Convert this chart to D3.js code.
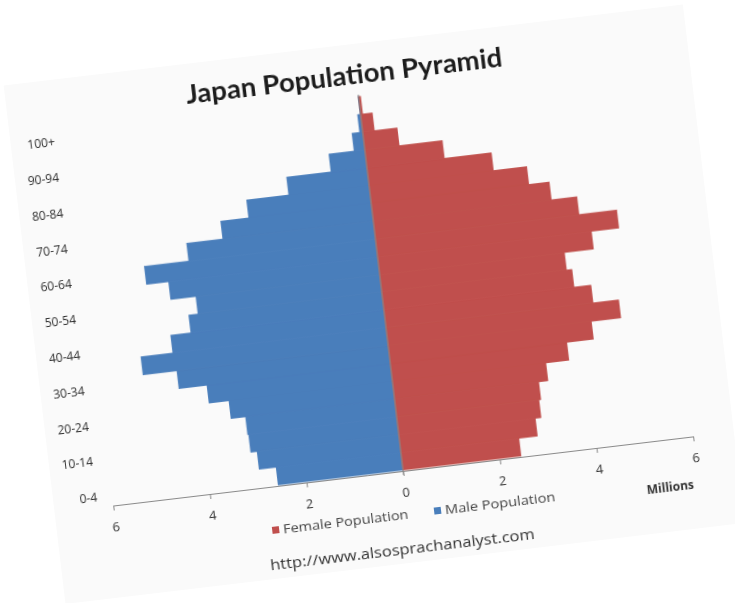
<!DOCTYPE html>
<html>
<head>
<meta charset="utf-8">
<script src="https://cdn.jsdelivr.net/npm/d3@7"></script>
<style>
  html, body { margin: 0; padding: 0; background: #ffffff; }
  svg { display: block; }
  text { font-family: "Open Sans", "Liberation Sans", sans-serif; }
</style>
</head>
<body>
<svg id="chart" width="735" height="603"></svg>
<script>
// ---- data (millions) ----
const categories = ["0-4","5-9","10-14","15-19","20-24","25-29","30-34","35-39","40-44","45-49",
  "50-54","55-59","60-64","65-69","70-74","75-79","80-84","85-89","90-94","95-99","100+"];
const femalePop = [2.44, 2.82, 2.94, 2.98, 3.17, 3.65, 4.20, 4.81, 4.28, 3.93,
  3.82, 4.42, 4.99, 4.21, 3.68, 3.26, 2.57, 1.60, 0.71, 0.24, 0.04];
const malePop = [2.58, 2.93, 3.06, 3.08, 3.38, 3.79, 4.37, 5.07, 4.41, 3.99,
  3.80, 4.32, 4.78, 3.86, 3.11, 2.53, 1.66, 0.74, 0.22, 0.06, 0.01];
const xTicks = [-6, -4, -2, 0, 2, 4, 6];
const shownLabels = ["0-4","10-14","20-24","30-34","40-44","50-54","60-64","70-74","80-84","90-94","100+"];
const titleText = "Japan Population Pyramid";
const legendItems = ["Female Population", "Male Population"];
const sourceText = "http://www.alsosprachanalyst.com";
const unitText = "Millions";

const FEMALE = "#c0504d", MALE = "#4a7ebb";

const svg = d3.select("#chart");
const defs = svg.append("defs");
defs.append("filter").attr("id", "soft").attr("x", "-5%").attr("y", "-5%")
  .attr("width", "110%").attr("height", "110%")
  .append("feGaussianBlur").attr("stdDeviation", 0.6);

// tilted "photo" card
const g = svg.append("g").attr("transform", "translate(403,470) rotate(-6.8)");
g.append("rect").attr("x", -351).attr("y", -429).attr("width", 684).attr("height", 522)
  .attr("fill", "#fafafa");

const p = g.append("g").attr("filter", "url(#soft)");

const x = d3.scaleLinear().domain([-6, 6]).range([-292, 292]);
const y = d3.scaleBand().domain(categories.slice().reverse()).range([-376, 0]).padding(0);

const rows = categories.map((c, i) => ({ c, f: femalePop[i], m: malePop[i] }));

// male bars (left)
p.append("g").selectAll("rect").data(rows).join("rect")
  .attr("x", d => x(-d.m)).attr("y", d => y(d.c))
  .attr("width", d => x(0) - x(-d.m)).attr("height", y.bandwidth())
  .attr("fill", MALE).attr("stroke", MALE).attr("stroke-width", 0.9);

// female bars (right)
p.append("g").selectAll("rect").data(rows).join("rect")
  .attr("x", x(0)).attr("y", d => y(d.c))
  .attr("width", d => x(d.f) - x(0)).attr("height", y.bandwidth())
  .attr("fill", FEMALE).attr("stroke", FEMALE).attr("stroke-width", 0.9);

// vertical centre axis
p.append("line").attr("x1", x(0)).attr("x2", x(0)).attr("y1", 5).attr("y2", -378)
  .attr("stroke", "#8a8a8a").attr("stroke-width", 1);

// horizontal axis
const ax = p.append("g").attr("transform", "translate(0,1)")
  .call(d3.axisBottom(x).tickValues(xTicks).tickFormat(d => Math.abs(d)).tickSize(5).tickSizeOuter(0));
ax.select(".domain").attr("stroke", "#8a8a8a");
ax.selectAll(".tick line").attr("stroke", "#8a8a8a");
ax.selectAll(".tick text").attr("y", 17).attr("dy", "0.71em")
  .attr("fill", "#333").style("font-size", "13px")
  .style("font-family", "'Open Sans', sans-serif");

// category labels
p.append("g").selectAll("text").data(shownLabels).join("text")
  .attr("x", -307).attr("y", d => y(d) + y.bandwidth() / 2)
  .attr("dy", "0.35em").attr("text-anchor", "end")
  .attr("fill", "#2e2e2e").style("font-size", "12px")
  .text(d => d);

// title
p.append("text").attr("x", -12).attr("y", -389).attr("text-anchor", "middle")
  .attr("fill", "#1e1e1e").style("font-size", "26px").style("font-weight", "bold")
  .style("font-family", "Lato, 'Open Sans', sans-serif")
  .attr("textLength", 318).attr("lengthAdjust", "spacingAndGlyphs")
  .text(titleText);

// unit label
p.append("text").attr("x", 287).attr("y", 53).attr("text-anchor", "end")
  .attr("fill", "#333").style("font-size", "12px").style("font-weight", "bold")
  .text(unitText);

// legend
const legendX = [-137, 26];
const legendW = [126, 111];
const legendC = [FEMALE, MALE];
const lg = p.append("g");
legendItems.forEach((t, i) => {
  lg.append("rect").attr("x", legendX[i]).attr("y", 41).attr("width", 7).attr("height", 7)
    .attr("fill", legendC[i]);
  lg.append("text").attr("x", legendX[i] + 11).attr("y", 49)
    .attr("fill", "#444").style("font-size", "13px")
    .attr("textLength", legendW[i]).attr("lengthAdjust", "spacingAndGlyphs")
    .text(t);
});

// source
p.append("text").attr("x", -143).attr("y", 84)
  .attr("fill", "#333").style("font-size", "15px")
  .attr("textLength", 266).attr("lengthAdjust", "spacingAndGlyphs")
  .text(sourceText);
</script>
</body>
</html>
